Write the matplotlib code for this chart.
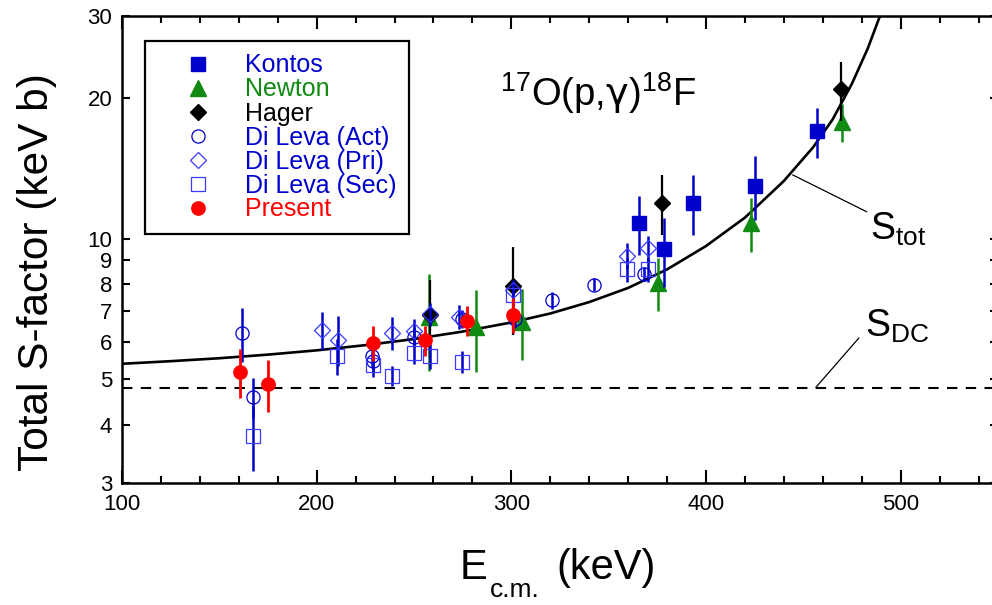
import numpy as np
import matplotlib
matplotlib.use("Agg")
import matplotlib.pyplot as plt
from matplotlib.lines import Line2D
from matplotlib.ticker import FixedLocator, FixedFormatter, NullFormatter, MultipleLocator

plt.rcParams['font.family'] = ['Liberation Sans', 'DejaVu Sans']
plt.rcParams['mathtext.fontset'] = 'custom'
plt.rcParams['mathtext.rm'] = 'Liberation Sans'
plt.rcParams['mathtext.it'] = 'Liberation Sans'
plt.rcParams['mathtext.bf'] = 'Liberation Sans:bold'
plt.rcParams['mathtext.sf'] = 'DejaVu Sans'

# --- data (E_cm in keV, S in keV b) ---
kontos_e = [365.5, 378.4, 393.1, 425.1, 457.1]
kontos_s = [10.8, 9.5, 11.95, 13.0, 17.0]
kontos_err = [1.55, 1.6, 1.75, 2.05, 2.1]

newton_e = [257.7, 281.8, 305.3, 375.5, 422.9, 470.0]
newton_s = [6.8, 6.48, 6.65, 8.06, 10.8, 17.8]
newton_err = [1.6, 1.3, 1.15, 1.05, 1.45, 1.65]

hager_e = [258.2, 300.7, 377.2, 469.1]
hager_s = [6.87, 7.92, 11.95, 20.9]
hager_err = [1.3, 1.7, 1.75, 3.0]

act_e = [161.8, 167.4, 228.2, 229.0, 250.1, 274.5, 302.0, 321.1, 342.4, 368.1]
act_s = [6.28, 4.59, 5.61, 5.48, 6.17, 6.75, 6.75, 7.38, 7.98, 8.42]
act_err = [0.82, 0.45, 0.3, 0.3, 0.3, 0.3, 0.3, 0.3, 0.25, 0.3]

pri_e = [202.5, 211.1, 238.6, 250.1, 258.2, 273.0, 301.0, 359.2, 370.3]
pri_s = [6.38, 6.08, 6.29, 6.35, 6.9, 6.8, 7.77, 9.2, 9.54]
pri_err = [0.6, 0.75, 0.5, 0.4, 0.4, 0.4, 0.4, 0.6, 0.6]

sec_e = [167.4, 210.6, 228.7, 238.6, 250.1, 258.2, 274.5, 301.0, 359.2, 370.3]
sec_s = [3.78, 5.61, 5.37, 5.09, 5.7, 5.61, 5.45, 7.58, 8.6, 8.6]
sec_err = [0.6, 0.5, 0.3, 0.25, 0.3, 0.35, 0.3, 0.4, 0.5, 0.5]

present_e = [160.6, 174.8, 228.7, 255.5, 277.0, 301.0]
present_s = [5.19, 4.88, 5.99, 6.07, 6.68, 6.87]
present_err = [0.62, 0.62, 0.52, 0.45, 0.5, 0.6]

stot_e = [100, 125, 150, 175, 200, 225, 250, 275, 300, 320, 340, 360, 380,
          400, 420, 440, 455, 465, 475, 483, 490]
stot_s = [5.40, 5.47, 5.55, 5.65, 5.77, 5.92, 6.10, 6.33, 6.62, 6.92, 7.32,
          7.85, 8.60, 9.65, 11.1, 13.3, 15.7, 18.0, 21.5, 25.5, 30.5]
sdc_value = 4.8

yticks = [3, 4, 5, 6, 7, 8, 9, 10, 20, 30]
ytick_labels = ['3', '4', '5', '6', '7', '8', '9', '10', '20', '30']

blue = '#0000cc'
lblue = '#3a3aff'
green = '#118a11'
red = '#ff0000'

fig = plt.figure(figsize=(9.92, 6.05), dpi=100)
ax = fig.add_axes([0.12298, 0.20165, 0.88306, 0.77190])

ax.plot(stot_e, stot_s, color='black', lw=1.9, zorder=2)
ax.axhline(sdc_value, color='black', lw=1.5, ls=(0, (5, 4)), zorder=2)

ax.errorbar(newton_e, newton_s, yerr=newton_err, fmt='^', color=green, ms=12,
            elinewidth=1.8, capsize=0, zorder=3)
ax.errorbar(hager_e, hager_s, yerr=hager_err, fmt='D', color='black', ms=7.8,
            elinewidth=1.6, capsize=0, zorder=4)
ax.errorbar(kontos_e, kontos_s, yerr=kontos_err, fmt='s', color=blue, ms=9.5,
            elinewidth=1.8, capsize=0, zorder=5)
ax.errorbar(act_e, act_s, yerr=act_err, fmt='o', color=blue, mfc='none', ms=9.5,
            mew=0.9, elinewidth=1.8, capsize=0, zorder=6)
ax.errorbar(pri_e, pri_s, yerr=pri_err, fmt='D', color=blue, mec=lblue, mfc='none',
            ms=8.5, mew=0.9, elinewidth=1.8, capsize=0, zorder=6)
ax.errorbar(sec_e, sec_s, yerr=sec_err, fmt='s', color=blue, mec=lblue, mfc='none',
            ms=9.5, mew=0.9, elinewidth=1.8, capsize=0, zorder=6)
ax.errorbar(present_e, present_s, yerr=present_err, fmt='o', color=red, ms=9.6,
            elinewidth=2.0, capsize=0, zorder=7)

ax.set_xlim(100, 550)
ax.set_yscale('log')
ax.set_ylim(3, 30)

ax.xaxis.set_major_locator(MultipleLocator(100))
ax.xaxis.set_minor_locator(MultipleLocator(20))
ax.yaxis.set_major_locator(FixedLocator(yticks))
ax.yaxis.set_major_formatter(FixedFormatter(ytick_labels))
ax.yaxis.set_minor_locator(FixedLocator([10]))
ax.yaxis.set_minor_formatter(NullFormatter())

ax.tick_params(which='both', direction='in', top=True, right=True, width=1.5,
               labelsize=16)
ax.xaxis.set_tick_params(which='major', length=9.5, pad=8)
ax.xaxis.set_tick_params(which='minor', length=5)
ax.yaxis.set_tick_params(which='major', length=6, pad=7)
ax.yaxis.set_tick_params(which='minor', length=11)
for sp in ax.spines.values():
    sp.set_linewidth(1.8)

# labels on the curves
ax.plot([444.6, 482.5], [13.7, 11.43], color='black', lw=0.9)
ax.plot([456.5, 478.5], [4.81, 6.13], color='black', lw=0.9)
ax.text(484.2, 9.94, r'S$_{\mathregular{tot}}$', fontsize=27, va='baseline')
ax.text(481.6, 6.17, r'S$_{\mathregular{DC}}$', fontsize=27, va='baseline')
ax.text(294, 19.3, r'$\mathregular{^{17}O(p{,}}\mathsf{γ}\mathregular{)^{18}F}$',
        fontsize=27.5, va='baseline')

handles = [
    Line2D([], [], ls='none', marker='s', color=blue, ms=9.5),
    Line2D([], [], ls='none', marker='^', color=green, ms=12),
    Line2D([], [], ls='none', marker='D', color='black', ms=7.8),
    Line2D([], [], ls='none', marker='o', color=blue, mfc='none', ms=9.5, mew=0.9),
    Line2D([], [], ls='none', marker='D', color=lblue, mfc='none', ms=8.5, mew=0.9),
    Line2D([], [], ls='none', marker='s', color=lblue, mfc='none', ms=9.5, mew=0.9),
    Line2D([], [], ls='none', marker='o', color=red, ms=9.6),
]
labels = ['Kontos', 'Newton', 'Hager', 'Di Leva (Act)', 'Di Leva (Pri)',
          'Di Leva (Sec)', 'Present']
leg = ax.legend(handles, labels, loc='upper left',
                bbox_to_anchor=(145 / 992, 1 - 41 / 605), bbox_transform=fig.transFigure,
                borderaxespad=0, fontsize=18, frameon=True, fancybox=False,
                edgecolor='black', framealpha=1, borderpad=0.5, handlelength=3.2,
                handletextpad=0.3, labelspacing=0.0,
                labelcolor=[blue, green, 'black', blue, blue, blue, red])
leg.get_frame().set_linewidth(1.6)

fig.text(37 / 992, 1 - 272 / 605, 'Total S-factor (keV b)', rotation=90,
         fontsize=30.5, ha='center', va='center')
# x label built from pieces: E, lowered c.m. subscript, (keV)
fig.text(460 / 992, 1 - 579 / 605, 'E', fontsize=30, ha='left', va='baseline')
fig.text(490 / 992, 1 - 597 / 605, 'c.m.', fontsize=19, ha='left', va='baseline')
fig.text(556 / 992, 1 - 579 / 605, '(keV)', fontsize=30, ha='left', va='baseline')

fig.savefig('out.png', dpi=100)
